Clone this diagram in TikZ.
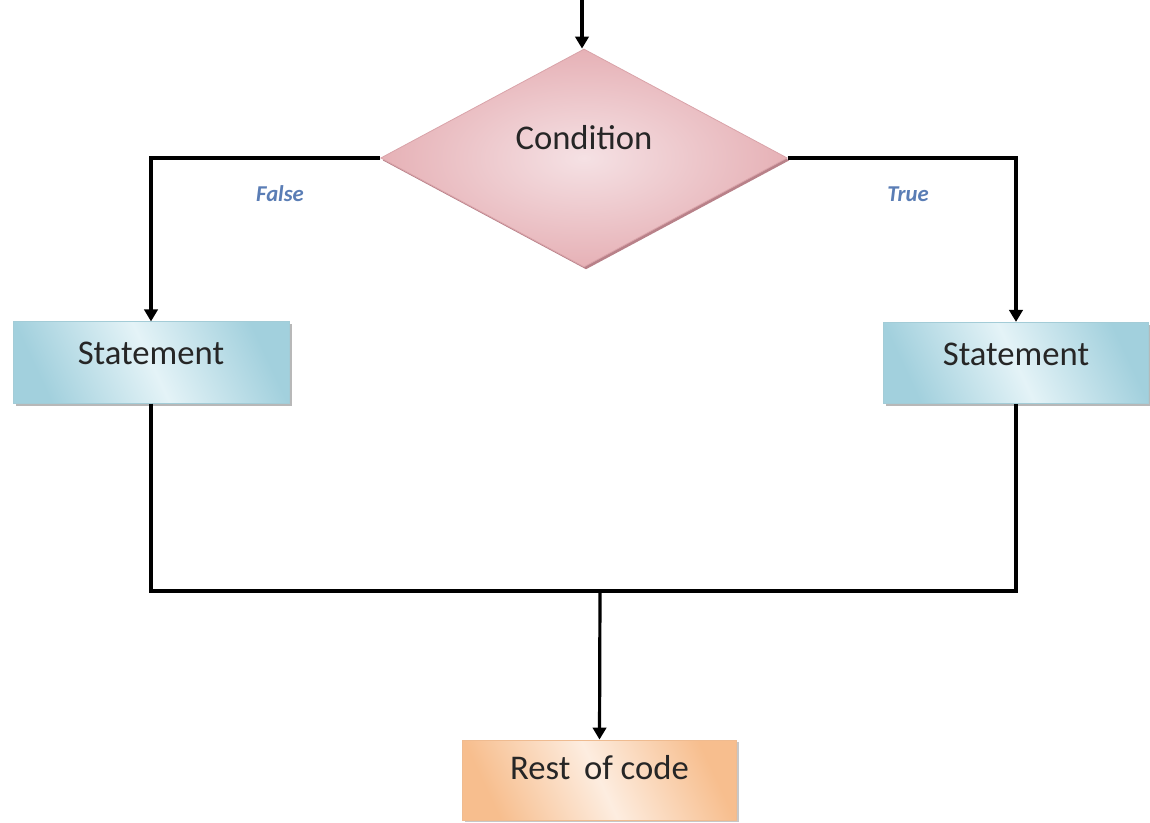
\documentclass[tikz,border=0pt]{standalone}
\usepackage{fontspec}
\setmainfont{Carlito}
\usetikzlibrary{shapes.geometric,arrows.meta,shadows}
\definecolor{pinkout}{HTML}{E6B1B6}
\definecolor{pinkin}{HTML}{F5E1E4}
\definecolor{pinkedge}{HTML}{D9A3A9}
\definecolor{pinkshadow}{HTML}{B88189}
\definecolor{blueout}{HTML}{A2D0DD}
\definecolor{bluein}{HTML}{E4F3F7}
\definecolor{blueedge}{HTML}{A3CCD7}
\definecolor{orangeout}{HTML}{F7BE8E}
\definecolor{orangein}{HTML}{FDEDE0}
\definecolor{orangeedge}{HTML}{EFBB90}
\definecolor{labelblue}{HTML}{5A7DB5}
\definecolor{textdark}{HTML}{262626}
\tikzset{
  conn/.style={line width=2.4pt, draw=black},
  arr/.style={conn, -{Triangle[width=10pt,length=9pt]}},
  decision/.style={diamond, inner sep=0pt, minimum width=305pt, minimum height=163.5pt,
    draw=pinkedge, line width=0.6pt, inner color=pinkin, outer color=pinkout,
    drop shadow={shadow xshift=1.5pt, shadow yshift=-1.8pt, fill=pinkshadow, opacity=1},
    text=textdark, font=\fontsize{26}{30}\selectfont},
  stmt/.style={rectangle, inner sep=0pt, minimum height=61pt,
    draw=blueedge, line width=0.6pt,
    left color=blueout, right color=blueout, middle color=bluein, shading angle=115,
    drop shadow={shadow xshift=2pt, shadow yshift=-2pt, fill=gray!70, opacity=.8},
    text=textdark, font=\fontsize{26}{30}\selectfont},
  restbox/.style={rectangle, inner sep=0pt, minimum height=60pt, minimum width=206pt,
    draw=orangeedge, line width=0.6pt,
    left color=orangeout, right color=orangeout, middle color=orangein, shading angle=115,
    drop shadow={shadow xshift=1.8pt, shadow yshift=-1.8pt, fill=gray!55, opacity=.8},
    text=textdark, font=\fontsize{26}{30}\selectfont},
  branchlabel/.style={text=labelblue, font=\fontsize{17}{20}\selectfont\bfseries\itshape}
}
\begin{document}
\begin{tikzpicture}[x=0.75pt,y=-0.75pt]
\useasboundingbox (0,0) rectangle (1150,823);
\node[decision] (cond) at (584,158) {\raisebox{30.5pt}{Condition}};
\node[stmt, minimum width=207pt] (sl) at (151,362.5) {\raisebox{13.5pt}{Statement}};
\node[stmt, minimum width=199pt] (sr) at (1016,363) {\raisebox{13.5pt}{Statement}};
\node[restbox] (rest) at (599.5,780) {\raisebox{19pt}{Rest\, of code}};
\node[branchlabel] (lf) at (280,194) {False};
\node[branchlabel] (lt) at (908,194) {True};
\coordinate (start) at (582,0);
\coordinate (join) at (600,591);
\draw[arr] (start) -- (start |- cond.north);
\draw[arr] (cond.west) -| (sl.north);
\draw[arr] (cond.east) -| (sr.north);
\draw[conn, line join=miter] (sl.south) -- (sl.south |- join) -- (sr.south |- join) -- (sr.south);
\draw[arr] (join) -- (rest.north);
\end{tikzpicture}
\end{document}
